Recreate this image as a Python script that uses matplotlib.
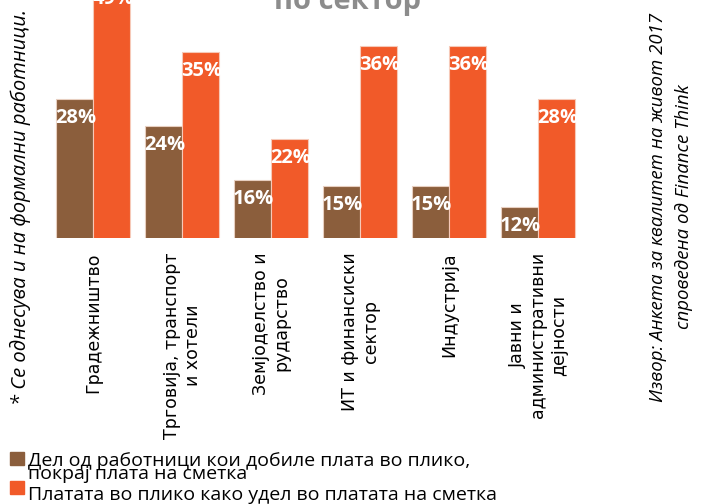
import matplotlib
matplotlib.use("Agg")
import matplotlib.pyplot as plt
from matplotlib.patches import Rectangle
import numpy as np

# data
sectors = ["Градежништво", "Трговија, транспорт\nи хотели", "Земјоделство и\nрударство",
           "ИТ и финансиски\nсектор", "Индустрија", "Јавни и\nадминистративни\nдејности"]
envelope_share = [28, 24, 16, 15, 15, 12]      # дел од работници со плата во плико
envelope_ratio = [49, 35, 22, 36, 36, 28]      # плико како удел во платата на сметка
legend_lines = [["Дел од работници кои добиле плата во плико,", "покрај плата на сметка"],
                ["Платата во плико како удел во платата на сметка"]]

BROWN = "#8B5E3C"
ORANGE = "#F15A29"

W, H = 702, 504
fig = plt.figure(figsize=(W / 100, H / 100), dpi=100)

# axes placed so the baseline sits where it is in the picture (axis does not start at 0)
top_px = -20
ax = fig.add_axes([40 / W, (H - 238.3) / H, 560 / W, (238.3 - top_px) / H])
ymin = 7.26
ymax = ymin + (238.3 - top_px) / 6.707
ax.set_ylim(ymin, ymax)
ax.set_xlim((40 - 93.3) / 89, (600 - 93.3) / 89)

x = np.arange(len(sectors))
bw = 37 / 89
b1 = ax.bar(x - bw / 2, envelope_share, bw, color=BROWN, edgecolor="#E8CFC0", linewidth=0.8)
b2 = ax.bar(x + bw / 2, envelope_ratio, bw, color=ORANGE, edgecolor="#F6C9B8", linewidth=0.8)

for bars in (b1, b2):
    for r in bars:
        v = r.get_height()
        top = min(v, ymax)
        ax.annotate(f"{v:.0f}%", (r.get_x() + r.get_width() / 2, top), xytext=(1, -19),
                    textcoords="offset pixels", ha="center", va="center",
                    color="white", fontsize=14.5, fontweight="bold", family="Open Sans")

ax.set_xticks(x)
ax.set_xticklabels(sectors, rotation=90, fontsize=12.5, family="DejaVu Sans",
                   multialignment="center")
ax.tick_params(axis="x", length=0, pad=10)
ax.set_yticks([])
for s in ax.spines.values():
    s.set_visible(False)

# title (cut off at the top in the original)
fig.text(347 / W, 1 - 9 / H, "по сектор", ha="center", va="baseline",
         fontsize=21, fontweight="bold", color="#8C8C8C", family="Open Sans")

# side notes
fig.text(20 / W, 1 - 207 / H, "* Се однесува и на формални работници.", rotation=90,
         ha="center", va="center", fontsize=14.5, style="italic", family="Open Sans")
fig.text(671 / W, 1 - 207 / H,
         "Извор: Анкета за квалитет на живот 2017\nспроведена од Finance Think",
         rotation=90, ha="center", va="center", fontsize=13.4, style="italic",
         family="Open Sans", multialignment="center", linespacing=1.5)

# legend drawn by hand to keep the tight line spacing
square_tops = [452, 481]
baselines = [[466, 479], [500]]
for lines, col, sq, bl in zip(legend_lines, [BROWN, ORANGE], square_tops, baselines):
    fig.patches.append(Rectangle((10 / W, 1 - (sq + 13) / H), 14 / W, 13 / H,
                                 transform=fig.transFigure, color=col))
    for line, b in zip(lines, bl):
        fig.text(28 / W, 1 - b / H, line, ha="left", va="baseline", fontsize=14,
                 family="Open Sans")

fig.savefig("out.png", dpi=100)
